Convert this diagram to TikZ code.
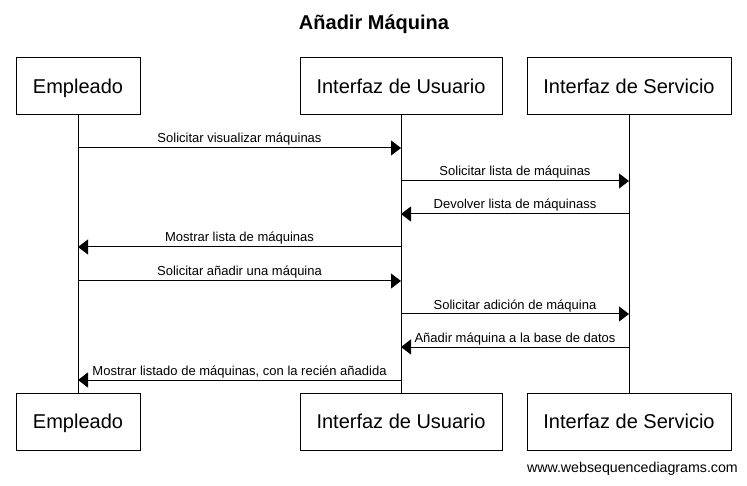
\documentclass[tikz,border=0pt]{standalone}
\usepackage{fontspec}
\setmainfont{Liberation Sans}
\usetikzlibrary{arrows.meta}
\begin{document}
\begin{tikzpicture}[x=1pt,y=-1pt,
  part/.style={draw=black,line width=1pt,fill=white,minimum width=#1,minimum height=57pt,inner sep=0pt,text height=14.5pt,text depth=1pt,font=\fontsize{20}{24}\selectfont},
  life/.style={line width=1pt},
  msg/.style={line width=1pt,-{Triangle[length=10pt,width=15pt]}},
  lbl/.style={font=\fontsize{13}{15}\selectfont,inner sep=0pt,anchor=base}
]
\useasboundingbox[fill=white] (0,0) rectangle (747,486);
\node[font=\bfseries\fontsize{20}{24}\selectfont] (title) at (374,24) {Añadir Máquina};
% participants top
\node[part=124pt] (et) at (78,86.5) {Empleado};
\node[part=202pt] (ut) at (401,86.5) {Interfaz de Usuario};
\node[part=204pt] (st) at (629,86.5) {Interfaz de Servicio};
% participants bottom
\node[part=124pt] (eb) at (78,421.5) {Empleado};
\node[part=202pt] (ub) at (401,421.5) {Interfaz de Usuario};
\node[part=204pt] (sb) at (629,421.5) {Interfaz de Servicio};
% lifelines
\draw[life] (et.south) -- (eb.north);
\draw[life] (ut.south) -- (ub.north);
\draw[life] (st.south) -- (sb.north);
% message points
\foreach \n/\y in {1/148,2/181,3/214,4/247,5/281,6/314,7/347,8/380}{
  \coordinate (e\n) at (78,\y);
  \coordinate (u\n) at (401,\y);
  \coordinate (s\n) at (629,\y);
}
\draw[msg] (e1) -- (u1) node[lbl,midway,yshift=5pt] (m1) {Solicitar visualizar máquinas};
\draw[msg] (u2) -- (s2) node[lbl,midway,yshift=5pt] (m2) {Solicitar lista de máquinas};
\draw[msg] (s3) -- (u3) node[lbl,midway,yshift=5pt] (m3) {Devolver lista de máquinass};
\draw[msg] (u4) -- (e4) node[lbl,midway,yshift=5pt] (m4) {Mostrar lista de máquinas};
\draw[msg] (e5) -- (u5) node[lbl,midway,yshift=5pt] (m5) {Solicitar añadir una máquina};
\draw[msg] (u6) -- (s6) node[lbl,midway,yshift=5pt] (m6) {Solicitar adición de máquina};
\draw[msg] (s7) -- (u7) node[lbl,midway,yshift=5pt] (m7) {Añadir máquina a la base de datos};
\draw[msg] (u8) -- (e8) node[lbl,midway,yshift=5pt] (m8) {Mostrar listado de máquinas, con la recién añadida};
\node[font=\fontsize{14.2}{16}\selectfont,anchor=east,inner sep=0pt] (foot) at (738,469) {www.websequencediagrams.com};
\end{tikzpicture}
\end{document}
